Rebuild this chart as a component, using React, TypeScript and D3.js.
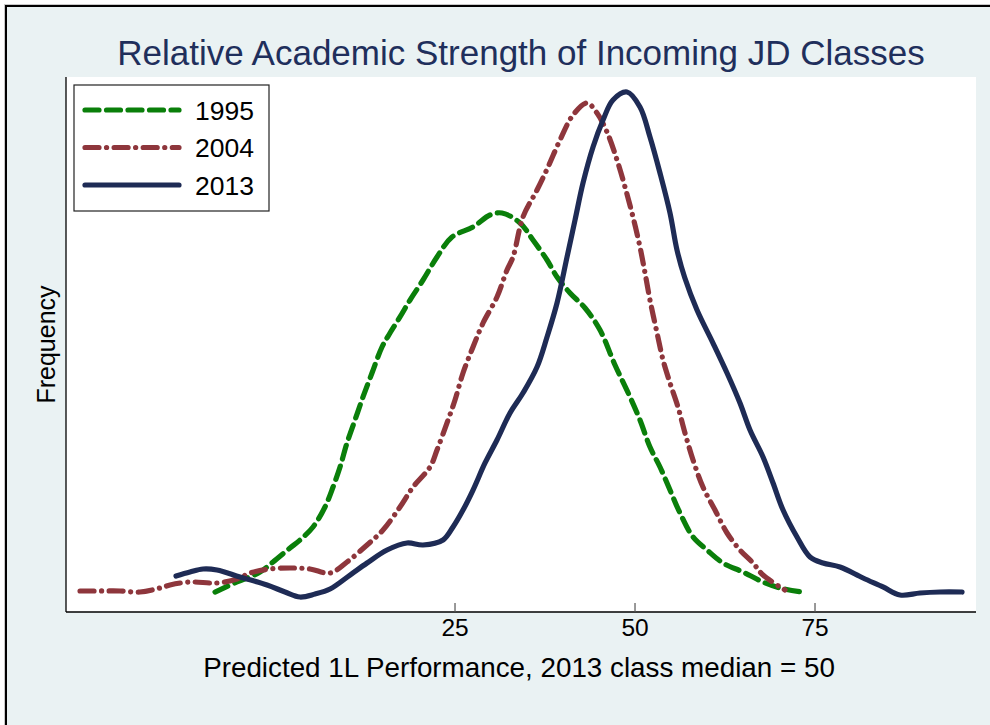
import React from "react";
import * as d3 from "d3";

// series: predicted 1L performance vs relative frequency
const years = ["1995", "2004", "2013"];
const colors = ["#0a7f0a", "#8e363c", "#1e2b55"];
const dashes = ["14,7.5", "14,7.5,0.1,7.5", "none"];

const x1995 = [-8.33, -5.28, -2.08, -0.28, 2.08, 3.47, 5.28, 6.94, 8.06, 9.03, 10.0, 11.11, 12.22, 13.47, 14.86, 15.97, 17.36, 18.75, 20.56, 22.5, 24.58, 27.5, 29.86, 31.53, 34.03, 35.83, 37.78, 39.17, 40.97, 43.06, 45.14, 47.22, 49.31, 50.69, 52.08, 53.47, 54.86, 56.25, 58.06, 60.0, 62.22, 65.0, 67.78, 70.14, 73.19];
const y1995 = [1.9, 3.81, 5.71, 7.62, 10.29, 11.81, 14.29, 18.1, 21.9, 25.71, 30.29, 34.67, 39.05, 43.62, 48.57, 51.24, 54.29, 57.52, 61.33, 65.71, 69.52, 71.43, 73.71, 74.1, 72.19, 68.95, 65.14, 61.9, 58.86, 56.0, 51.81, 45.14, 39.05, 34.67, 29.52, 25.71, 21.33, 16.95, 12.38, 9.9, 7.43, 5.71, 3.81, 2.67, 1.9];

const x2004 = [-27.08, -24.31, -21.53, -18.75, -15.97, -14.58, -11.81, -8.06, -5.28, -3.47, -0.69, 2.08, 4.86, 7.64, 10.0, 12.78, 15.0, 17.36, 19.17, 21.53, 22.5, 23.89, 25.0, 26.11, 27.5, 28.89, 30.83, 32.22, 33.06, 34.44, 36.39, 37.92, 39.58, 41.39, 43.33, 44.72, 46.11, 47.5, 48.61, 49.72, 50.69, 51.39, 52.08, 53.06, 53.89, 54.86, 55.97, 56.94, 58.06, 59.44, 61.11, 62.78, 64.58, 66.39, 67.78, 70.83];
const y2004 = [2.1, 2.1, 2.1, 1.9, 2.67, 3.24, 3.81, 3.62, 4.38, 5.52, 6.29, 6.48, 6.29, 5.52, 7.62, 10.86, 13.71, 18.1, 21.9, 25.71, 28.95, 34.1, 38.48, 43.62, 48.57, 53.14, 58.1, 63.24, 65.71, 73.33, 78.48, 82.86, 88.0, 92.76, 95.05, 93.14, 89.52, 84.19, 79.05, 73.33, 67.62, 62.67, 57.52, 51.24, 46.1, 41.71, 37.14, 32.19, 27.05, 21.9, 17.52, 13.14, 9.9, 7.43, 5.14, 2.29];

const x2013 = [-13.75, -11.81, -10.0, -8.06, -4.86, -1.11, 1.39, 3.47, 5.56, 7.64, 10.42, 12.78, 15.56, 18.33, 20.56, 23.33, 24.72, 26.11, 27.5, 29.17, 30.83, 32.64, 34.44, 36.39, 37.78, 39.17, 40.56, 41.67, 42.78, 44.17, 45.56, 46.94, 48.89, 50.69, 52.08, 53.47, 54.86, 55.83, 56.9, 58.61, 60.83, 62.78, 64.58, 65.97, 67.78, 69.17, 70.56, 72.5, 74.31, 76.11, 78.47, 81.67, 84.44, 86.81, 89.58, 92.36, 95.42];
const y2013 = [4.95, 5.71, 6.29, 6.1, 4.76, 3.24, 1.9, 0.95, 1.52, 2.48, 5.14, 7.43, 9.9, 11.24, 10.86, 11.81, 14.29, 17.52, 21.33, 26.48, 30.86, 36.0, 39.81, 44.76, 50.48, 56.95, 65.71, 72.76, 79.81, 86.67, 91.81, 95.62, 97.14, 94.29, 88.57, 81.71, 74.1, 67.05, 61.8, 55.62, 49.33, 43.62, 37.9, 32.76, 27.62, 22.67, 17.52, 12.38, 8.57, 7.43, 6.67, 4.57, 2.86, 1.33, 1.71, 1.9, 1.9];

const xTicks = [25, 50, 75];

const seriesX = [x1995, x2004, x2013];
const seriesY = [y1995, y2004, y2013];

const W = 990;
const H = 725;
const plot = { left: 66, right: 976, top: 77, bottom: 612 };
const font = "'Liberation Sans', Arial, Helvetica, sans-serif";

export default function App() {
  const x = d3.scaleLinear().domain([-29.03, 97.36]).range([plot.left, plot.right]);
  const y = d3.scaleLinear().domain([0, 100]).range([602, plot.top]);

  const line = d3
    .line<[number, number]>()
    .x((d) => x(d[0]))
    .y((d) => y(d[1]))
    .curve(d3.curveCatmullRom.alpha(0.5));

  const cx = (plot.left + plot.right) / 2;

  return (
    <svg
      width={W}
      height={H}
      style={{ position: "absolute", left: 0, top: 0, display: "block" }}
    >
      <rect x={0} y={0} width={W} height={H} fill="#ffffff" />
      <rect x={4.5} y={4.5} width={W + 20} height={H + 20} fill="none" stroke="#c8c8c8" strokeWidth={1} />
      <rect x={6} y={6} width={W + 20} height={H + 20} fill="#eaf2f3" stroke="#000" strokeWidth={2} />

      <text
        x={cx}
        y={65}
        textAnchor="middle"
        fontFamily={font}
        fontSize={35}
        fill="#1f2f5c"
      >
        Relative Academic Strength of Incoming JD Classes
      </text>

      <rect
        x={plot.left}
        y={plot.top}
        width={plot.right - plot.left}
        height={plot.bottom - plot.top}
        fill="#ffffff"
      />

      {seriesX.map((xs, i) => (
        <path
          key={years[i]}
          d={line(xs.map((v, j) => [v, seriesY[i][j]]) as [number, number][]) || ""}
          fill="none"
          stroke={colors[i]}
          strokeWidth={5.2}
          strokeLinecap="round"
          strokeLinejoin="round"
          strokeDasharray={dashes[i]}
        />
      ))}

      <line x1={plot.left} x2={plot.left} y1={plot.top} y2={plot.bottom} stroke="#000" strokeWidth={1.3} />
      <line x1={plot.left} x2={plot.right} y1={plot.bottom} y2={plot.bottom} stroke="#000" strokeWidth={1.3} />

      {xTicks.map((t) => (
        <g key={t}>
          <line x1={x(t)} x2={x(t)} y1={plot.bottom - 9} y2={plot.bottom} stroke="#555" strokeWidth={1.2} />
          <text x={x(t)} y={636} textAnchor="middle" fontFamily={font} fontSize={24.5} fill="#000">
            {t}
          </text>
        </g>
      ))}

      <text x={cx - 2} y={677} textAnchor="middle" fontFamily={font} fontSize={27.8} fill="#000">
        Predicted 1L Performance, 2013 class median = 50
      </text>

      <text
        transform={`translate(55, ${(plot.top + plot.bottom) / 2}) rotate(-90)`}
        textAnchor="middle"
        fontFamily={font}
        fontSize={25}
        fill="#000"
      >
        Frequency
      </text>

      <g>
        <rect x={74} y={85} width={195} height={126} fill="#ffffff" stroke="#222" strokeWidth={1.2} />
        {years.map((yr, i) => {
          const ry = 110 + i * 37.5;
          return (
            <g key={yr}>
              <line
                x1={85}
                x2={179}
                y1={ry}
                y2={ry}
                stroke={colors[i]}
                strokeWidth={5.2}
                strokeLinecap="round"
                strokeDasharray={dashes[i]}
              />
              <text x={195} y={ry + 9.5} fontFamily={font} fontSize={26.5} fill="#000">
                {yr}
              </text>
            </g>
          );
        })}
      </g>
    </svg>
  );
}
